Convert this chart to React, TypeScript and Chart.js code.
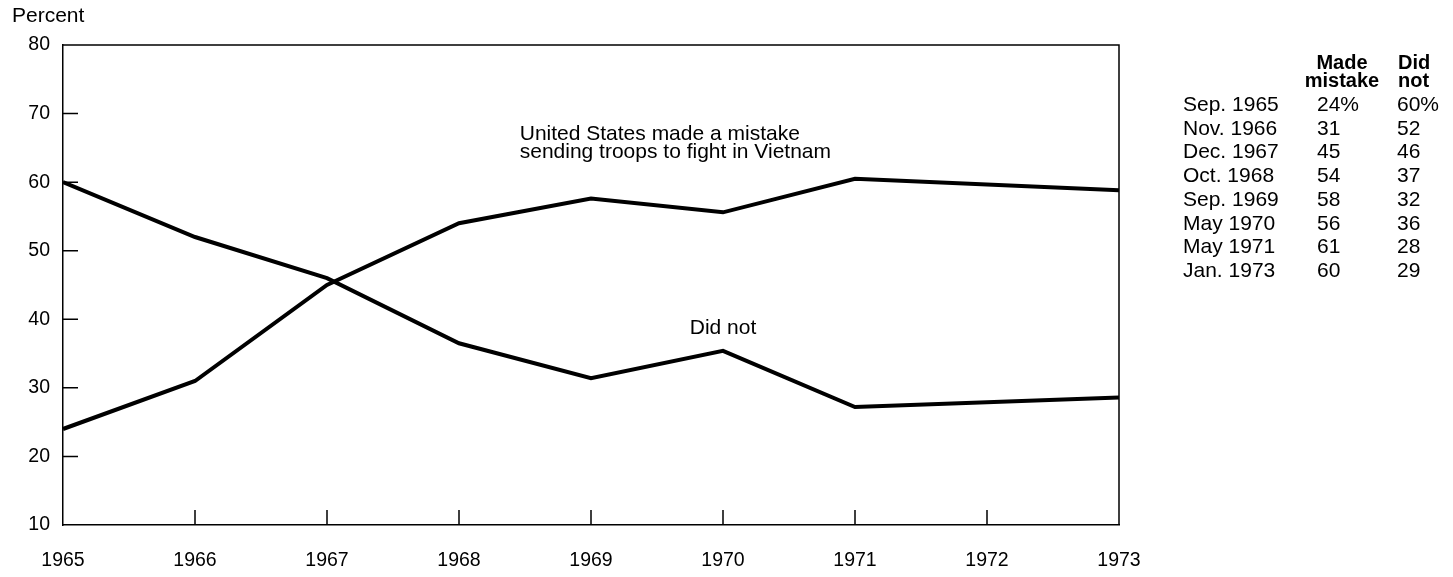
import React, { useEffect, useRef } from "react";
import { Chart, registerables } from "chart.js";

Chart.register(...registerables);

// ---- Data ----
const yearTicks = [1965, 1966, 1967, 1968, 1969, 1970, 1971, 1972, 1973];
const percentTicks = [10, 20, 30, 40, 50, 60, 70, 80];
const pointYears = [1965, 1966, 1967, 1968, 1969, 1970, 1971, 1973];
const madeMistake = [24, 31, 45, 54, 57.6, 55.6, 60.5, 58.8];
const didNot = [60, 52, 46, 36.5, 31.4, 35.4, 27.2, 28.6];

const tableDates = [
  "Sep. 1965",
  "Nov. 1966",
  "Dec. 1967",
  "Oct. 1968",
  "Sep. 1969",
  "May 1970",
  "May 1971",
  "Jan. 1973",
];
const tableMistake = ["24%", "31", "45", "54", "58", "56", "61", "60"];
const tableDidNot = ["60%", "52", "46", "37", "32", "36", "28", "29"];

const mistakeLabel = ["United States made a mistake", "sending troops to fight in Vietnam"];
const didNotLabel = "Did not";

const FONT = "'Liberation Sans', Arial, Helvetica, sans-serif";
const TICK_FS = 19.5;
const TEXT_FS = 21;

const framePlugin = {
  id: "framePlugin",
  afterDraw(chart: any) {
    const { ctx, chartArea, scales } = chart;
    const xs = scales.x;
    const ys = scales.y;
    ctx.save();
    ctx.strokeStyle = "#000";
    ctx.lineWidth = 1.5;
    // top and right border
    ctx.beginPath();
    ctx.moveTo(chartArea.left, chartArea.top);
    ctx.lineTo(chartArea.right, chartArea.top);
    ctx.lineTo(chartArea.right, chartArea.bottom);
    ctx.stroke();
    // inward ticks on x axis
    ctx.beginPath();
    yearTicks.slice(1, -1).forEach((yr) => {
      const px = xs.getPixelForValue(yr);
      ctx.moveTo(px, chartArea.bottom);
      ctx.lineTo(px, chartArea.bottom - 15);
    });
    // inward ticks on y axis
    percentTicks.slice(1, -1).forEach((v) => {
      const py = ys.getPixelForValue(v);
      ctx.moveTo(chartArea.left, py);
      ctx.lineTo(chartArea.left + 15, py);
    });
    ctx.stroke();
    // annotations
    ctx.fillStyle = "#000";
    ctx.font = `${TEXT_FS}px ${FONT}`;
    ctx.textBaseline = "middle";
    ctx.textAlign = "left";
    const ax = xs.getPixelForValue(1968.46);
    ctx.fillText(mistakeLabel[0], ax, ys.getPixelForValue(67.0));
    ctx.fillText(mistakeLabel[1], ax, ys.getPixelForValue(64.3));
    ctx.textAlign = "center";
    ctx.fillText(didNotLabel, xs.getPixelForValue(1970.0), ys.getPixelForValue(38.7));
    ctx.restore();
  },
};

export default function App() {
  const canvasRef = useRef<HTMLCanvasElement | null>(null);

  useEffect(() => {
    if (!canvasRef.current) return;
    const chart = new Chart(canvasRef.current, {
      type: "line",
      data: {
        datasets: [
          {
            label: "Made mistake",
            data: pointYears.map((x, i) => ({ x, y: madeMistake[i] })),
            borderColor: "#000",
            borderWidth: 4,
            pointRadius: 0,
            tension: 0,
            fill: false,
          },
          {
            label: "Did not",
            data: pointYears.map((x, i) => ({ x, y: didNot[i] })),
            borderColor: "#000",
            borderWidth: 4,
            pointRadius: 0,
            tension: 0,
            fill: false,
          },
        ],
      },
      options: {
        animation: false,
        responsive: false,
        maintainAspectRatio: false,
        layout: { padding: { left: 0, right: 334, top: 45, bottom: 0 } },
        plugins: {
          legend: { display: false },
          tooltip: { enabled: false },
        },
        scales: {
          x: {
            type: "linear",
            min: 1965,
            max: 1973,
            afterBuildTicks: (s: any) => {
              s.ticks = yearTicks.map((v) => ({ value: v }));
            },
            ticks: {
              callback: (v: any) => String(v),
              color: "#000",
              font: { family: FONT, size: TICK_FS },
              padding: 24,
              maxRotation: 0,
              autoSkip: false,
            },
            grid: { display: false, drawTicks: false },
            border: { display: true, color: "#000", width: 1.5 },
            afterFit: (s: any) => {
              s.height = 52;
            },
          },
          y: {
            min: 10,
            max: 80,
            afterBuildTicks: (s: any) => {
              s.ticks = percentTicks.map((v) => ({ value: v }));
            },
            ticks: {
              color: "#000",
              font: { family: FONT, size: TICK_FS },
              padding: 13,
            },
            grid: { display: false, drawTicks: false },
            border: { display: true, color: "#000", width: 1.5 },
            afterFit: (s: any) => {
              s.width = 63;
            },
          },
        },
      },
      plugins: [framePlugin],
    });
    return () => chart.destroy();
  }, []);

  const textStyle: React.CSSProperties = {
    position: "absolute",
    fontFamily: FONT,
    fontSize: TEXT_FS,
    color: "#000",
    whiteSpace: "nowrap",
  };

  return (
    <div style={{ position: "absolute", left: 0, top: 0, width: 1453, height: 577, background: "#fff" }}>
      <canvas ref={canvasRef} width={1453} height={577} style={{ position: "absolute", left: 0, top: 0 }} />
      <div style={{ ...textStyle, left: 12, top: 4, lineHeight: "22px" }}>Percent</div>
      <div style={{ ...textStyle, left: 1300, width: 84, top: 54, lineHeight: "17.5px", fontWeight: "bold", textAlign: "center", fontSize: 20 }}>
        Made<br />mistake
      </div>
      <div style={{ ...textStyle, left: 1398, top: 54, lineHeight: "17.5px", fontWeight: "bold", fontSize: 20 }}>
        Did<br />not
      </div>
      <div style={{ ...textStyle, left: 1183, top: 92, lineHeight: "23.7px" }}>
        {tableDates.map((d) => (
          <div key={d}>{d}</div>
        ))}
      </div>
      <div style={{ ...textStyle, left: 1317, top: 92, lineHeight: "23.7px" }}>
        {tableMistake.map((d, i) => (
          <div key={i}>{d}</div>
        ))}
      </div>
      <div style={{ ...textStyle, left: 1397, top: 92, lineHeight: "23.7px" }}>
        {tableDidNot.map((d, i) => (
          <div key={i}>{d}</div>
        ))}
      </div>
    </div>
  );
}
